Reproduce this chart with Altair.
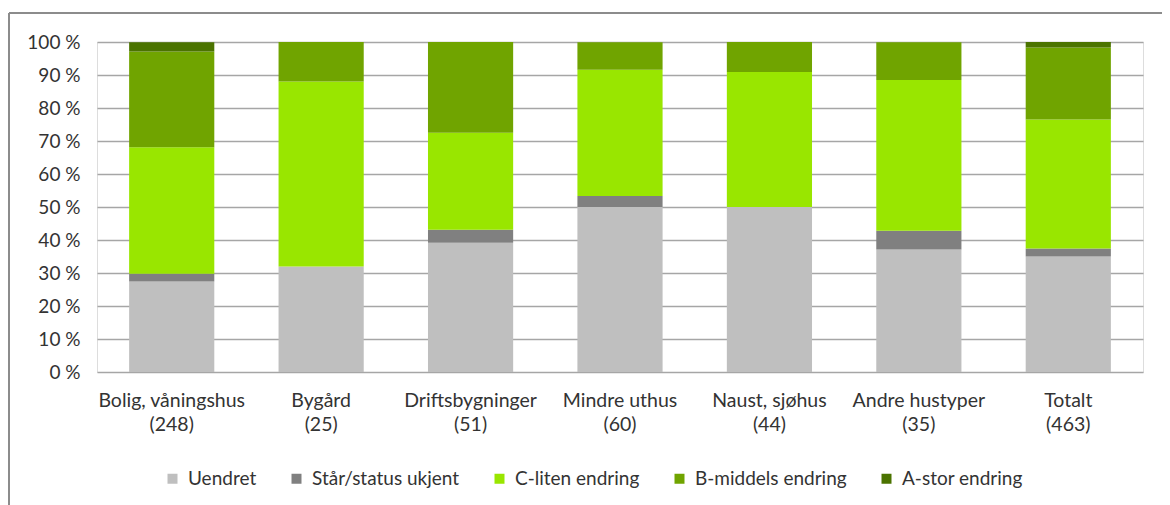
import altair as alt
import pandas as pd

names = ["Bolig, våningshus", "Bygård", "Driftsbygninger", "Mindre uthus",
         "Naust, sjøhus", "Andre hustyper", "Totalt"]
counts = [248, 25, 51, 60, 44, 35, 463]

series = ["Uendret", "Står/status ukjent", "C-liten endring",
          "B-middels endring", "A-stor endring"]
colors = ["#BFBFBF", "#808080", "#99E600", "#70A400", "#4B7300"]

uendret = [27.4, 32.0, 39.2, 50.0, 50.0, 37.1, 35.0]
ukjent = [2.4, 0.0, 3.9, 3.3, 0.0, 5.7, 2.4]
c_liten = [38.3, 56.0, 29.4, 38.3, 40.9, 45.7, 39.1]
b_middels = [29.0, 12.0, 27.5, 8.3, 9.1, 11.4, 21.8]
a_stor = [2.8, 0.0, 0.0, 0.0, 0.0, 0.0, 1.7]

labels = [f"{n}|({c})" for n, c in zip(names, counts)]
rows = []
for si, (s, vals) in enumerate(zip(series, [uendret, ukjent, c_liten, b_middels, a_stor])):
    for lab, v in zip(labels, vals):
        if v > 0:
            rows.append({"kat": lab, "serie": s, "ord": si, "pct": v})
df = pd.DataFrame(rows)

FONT = "Lato"
TXT = "#333333"

bars = alt.Chart(df).mark_bar().encode(
    x=alt.X("kat:N", sort=labels, title=None,
            scale=alt.Scale(paddingInner=0.43, paddingOuter=0.215),
            axis=alt.Axis(labelAngle=0, labelExpr="split(datum.label, '|')",
                          labelLineHeight=24, labelPadding=19, ticks=False,
                          domain=False, labelFont=FONT, labelFontSize=19.5,
                          labelColor=TXT, labelLimit=300)),
    y=alt.Y("pct:Q", stack="zero", title=None,
            scale=alt.Scale(domain=[0, 100], nice=False),
            axis=alt.Axis(values=list(range(0, 101, 10)),
                          labelExpr="datum.value + ' %'", ticks=False,
                          domain=False, labelPadding=17, labelFont=FONT,
                          labelFontSize=19, labelColor=TXT,
                          gridColor="#A6A6A6", gridWidth=1.5)),
    color=alt.Color("serie:N", sort=series,
                    scale=alt.Scale(domain=series, range=colors),
                    legend=alt.Legend(title=None, orient="none", direction="horizontal",
                                      legendX=66, legendY=427,
                                      symbolType="square", symbolSize=100,
                                      symbolStrokeWidth=0, labelFont=FONT,
                                      labelFontSize=19, labelColor=TXT,
                                      columnPadding=30, labelOffset=6)),
    order=alt.Order("ord:Q", sort="ascending"),
)

frame_top = alt.Chart(df).mark_rule(color="#8C8C8C", strokeWidth=2).encode(
    x=alt.value(-88), x2=alt.value(1200), y=alt.value(-29))
frame_left = alt.Chart(df).mark_rule(color="#8C8C8C", strokeWidth=2).encode(
    x=alt.value(-88), y=alt.value(-29), y2=alt.value(470))

chart = alt.layer(bars, frame_top, frame_left).properties(
    width=1046, height=330,
    autosize=alt.AutoSizeParams(type="none"),
    padding={"left": 89, "top": 34, "right": 19, "bottom": 133},
).configure_view(stroke=None).configure(background="white")

chart.save("out.html", embed_options={"renderer": "svg", "actions": False})
